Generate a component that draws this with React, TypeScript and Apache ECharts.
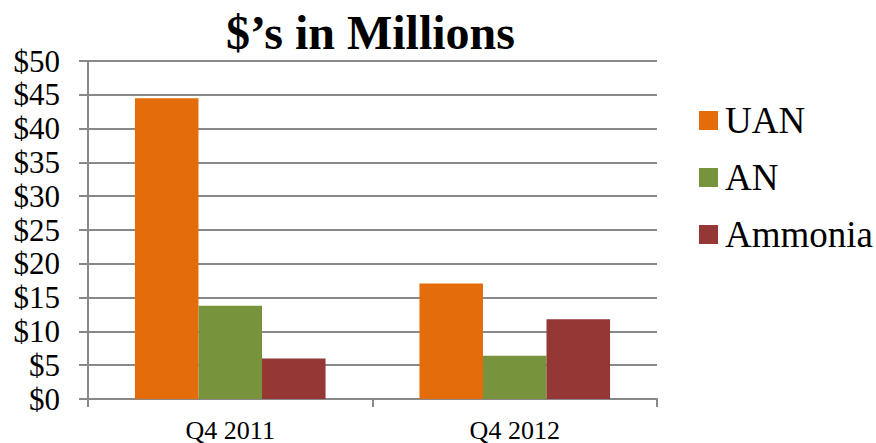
import React, { useEffect, useRef } from "react";
import * as echarts from "echarts";

const categories = ["Q4 2011", "Q4 2012"];
const uanValues = [44.5, 17.1];
const anValues = [13.8, 6.4];
const ammoniaValues = [6.0, 11.8];
const seriesNames = ["UAN", "AN", "Ammonia"];
const seriesColors = ["#E46C0A", "#77933C", "#953735"];
const titleText = "$\u2019s in Millions";

export default function App() {
  const ref = useRef<HTMLDivElement>(null);
  useEffect(() => {
    document.body.style.margin = "0";
    const chart = echarts.init(ref.current!, null, { renderer: "svg" });
    const serif = "'Liberation Serif', 'Times New Roman', serif";
    const gray = "#888888";
    const values = [uanValues, anValues, ammoniaValues];
    chart.setOption({
      animation: false,
      backgroundColor: "#ffffff",
      title: {
        text: titleText,
        left: 226,
        top: 8,
        padding: 0,
        textStyle: { fontFamily: serif, fontSize: 48, fontWeight: "bold", color: "#000" },
      },
      legend: {
        orient: "vertical",
        left: 699,
        top: 102,
        padding: 0,
        itemWidth: 19,
        itemHeight: 19,
        itemGap: 20,
        icon: "rect",
        data: seriesNames,
        textStyle: { fontFamily: serif, fontSize: 37, lineHeight: 37, color: "#000", padding: [0, 0, 0, 2] },
      },
      grid: { left: 88, right: 219, top: 61, bottom: 44, containLabel: false },
      xAxis: {
        type: "category",
        data: categories,
        axisLine: { lineStyle: { color: gray, width: 2 } },
        axisTick: { show: true, length: 8, lineStyle: { color: gray, width: 2 } },
        axisLabel: { fontFamily: serif, fontSize: 26, color: "#000", margin: 18 },
      },
      yAxis: {
        type: "value",
        min: 0,
        max: 50,
        interval: 5,
        axisLine: { show: true, lineStyle: { color: gray, width: 2 } },
        axisTick: { show: true, length: 9, lineStyle: { color: gray, width: 2 } },
        splitLine: { lineStyle: { color: gray, width: 2 } },
        axisLabel: { fontFamily: serif, fontSize: 31, color: "#000", margin: 28, formatter: "${value}" },
      },
      series: seriesNames.map((name, i) => ({
        name,
        type: "bar",
        data: values[i],
        barGap: "0%",
        barCategoryGap: "33%",
        itemStyle: { color: seriesColors[i] },
      })),
    });
    return () => chart.dispose();
  }, []);
  return <div ref={ref} style={{ width: 876, height: 443 }} />;
}
